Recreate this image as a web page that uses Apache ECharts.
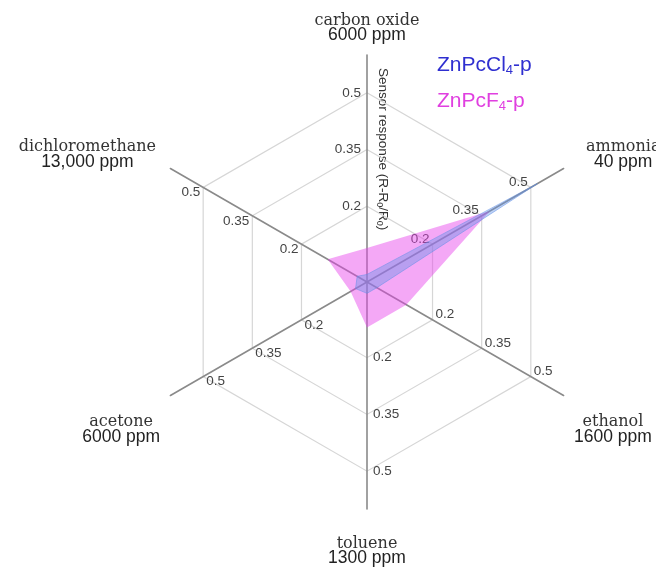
<!DOCTYPE html>
<html>
<head>
<meta charset="utf-8">
<title>Sensor response radar</title>
<script src="https://cdn.jsdelivr.net/npm/echarts@6/dist/echarts.min.js"></script>
<style>
  html, body { margin: 0; padding: 0; background: #ffffff; }
  #chart { width: 656px; height: 568px; }
</style>
</head>
<body>
<div id="chart"></div>
<script>
// Gases (counter-clockwise from the top) and their test concentrations
const gases = ['carbon oxide', 'dichloromethane', 'acetone', 'toluene', 'ethanol', 'ammonia'];
const concentrations = ['6000 ppm', '13,000 ppm', '6000 ppm', '1300 ppm', '1600 ppm', '40 ppm'];

// Sensor response (R-R0)/R0, same order as gases
const responseCl4 = [0.02, 0.03, 0.035, 0.03, 0.03, 0.52];
const responseF4  = [0.09, 0.12, 0.05, 0.12, 0.12, 0.375];

// Rings that carry a tick label
const ringValues = [0.2, 0.35, 0.5];
const axisMax = 0.6;
const axisStep = 0.05;

const seriesNames = ['ZnPcCl4-p', 'ZnPcF4-p'];

const CX = 367, CY = 282, R = 227;

const splitCount = Math.round(axisMax / axisStep);
const isRing = v => ringValues.some(r => Math.abs(r - v) < 1e-6);
const ringColors = [];
for (let i = 0; i <= splitCount; i++) {
  ringColors.push(isRing(i * axisStep) ? '#d6d6d6' : 'rgba(0,0,0,0)');
}

// Extra spacing around the gas names so they sit clear of the axis ends
const nameLayout = {
  'carbon oxide':    { pad: [0, 0, 0, 0],  above: 0,  below: 0 },
  'dichloromethane': { pad: [0, 4, 0, 0],  above: 0,  below: 16 },
  'acetone':         { pad: [0, 0, 0, 0],  above: 56, below: 0 },
  'toluene':         { pad: [0, 0, 0, 0],  above: 15, below: 0 },
  'ethanol':         { pad: [0, 0, 0, 0],  above: 56, below: 0 },
  'ammonia':         { pad: [0, 0, 0, 12], above: 0,  below: 16 }
};

const SERIF = 'DejaVu Serif, serif';
const SANS = 'Liberation Sans, Arial, sans-serif';

const nameRich = {};
gases.forEach((g, i) => {
  const L = nameLayout[g];
  nameRich['t' + i] = { fontFamily: SERIF, fontSize: 16, color: '#333333', lineHeight: 15, align: 'center', padding: L.pad };
  nameRich['c' + i] = { fontFamily: SANS, fontSize: 17.5, color: '#222222', lineHeight: 15, align: 'center', padding: L.pad };
  nameRich['a' + i] = { fontSize: 8, lineHeight: Math.max(L.above, 1) };
  nameRich['b' + i] = { fontSize: 8, lineHeight: Math.max(L.below, 1) };
});

const chart = echarts.init(document.getElementById('chart'));

chart.setOption({
  backgroundColor: '#ffffff',
  animation: false,
  legend: {
    orient: 'vertical',
    left: 427,
    top: 50,
    icon: 'none',
    itemWidth: 0,
    itemHeight: 10,
    itemGap: 14,
    data: seriesNames,
    selectedMode: false,
    formatter: function (name) {
      if (name === seriesNames[0]) return '{b|ZnPcCl}{bs|4}{b|-p}';
      return '{m|ZnPcF}{ms|4}{m|-p}';
    },
    textStyle: {
      fontFamily: SANS,
      fontSize: 21,
      rich: {
        b:  { color: '#2f2fd0', fontSize: 21, fontFamily: SANS },
        bs: { color: '#2f2fd0', fontSize: 13, verticalAlign: 'bottom', padding: [10, 0, 0, 0], fontFamily: SANS },
        m:  { color: '#e040e0', fontSize: 21, fontFamily: SANS },
        ms: { color: '#e040e0', fontSize: 13, verticalAlign: 'bottom', padding: [10, 0, 0, 0], fontFamily: SANS }
      }
    }
  },
  radar: {
    center: [CX, CY],
    radius: R,
    startAngle: 90,
    shape: 'polygon',
    splitNumber: splitCount,
    indicator: gases.map(g => ({ name: g, min: 0, max: axisMax })),
    axisName: {
      formatter: function (name) {
        const i = gases.indexOf(name);
        const L = nameLayout[name];
        let s = '{t' + i + '|' + name + '}\n{c' + i + '|' + concentrations[i] + '}';
        if (L.above) s = '{a' + i + '| }\n' + s;
        if (L.below) s = s + '\n{b' + i + '| }';
        return s;
      },
      rich: nameRich
    },
    nameGap: 12,
    axisLine: { show: true, lineStyle: { color: '#8a8a8a', width: 1.6 } },
    axisTick: { show: false },
    axisLabel: {
      show: true,
      margin: 6,
      color: '#444444',
      fontSize: 13.5,
      fontFamily: SANS,
      formatter: function (v) {
        return isRing(v) ? String(Math.round(v * 100) / 100) : '';
      }
    },
    splitLine: { show: true, lineStyle: { color: ringColors, width: 1.2 } },
    splitArea: { show: false }
  },
  graphic: [{
    type: 'text',
    x: CX + 23,
    y: CY - R + 13,
    rotation: -Math.PI / 2,
    style: {
      text: '{n|Sensor response (R-R}{s|0}{n|/R}{s|0}{n|)}',
      rich: {
        n: { fontSize: 13.5, fill: '#333333', fontFamily: SANS },
        s: { fontSize: 9, fill: '#333333', verticalAlign: 'bottom', padding: [6, 0, 0, 0], fontFamily: SANS }
      },
      align: 'left',
      verticalAlign: 'top'
    }
  }],
  series: [{
    type: 'radar',
    symbol: 'none',
    lineStyle: { width: 0 },
    data: [
      {
        name: seriesNames[1],
        value: responseF4,
        itemStyle: { color: '#e040e0' },
        lineStyle: { width: 0, color: 'rgba(0,0,0,0)' },
        areaStyle: { color: 'rgba(230,65,235,0.46)', opacity: 1 }
      },
      {
        name: seriesNames[0],
        value: responseCl4,
        itemStyle: { color: '#2f2fd0' },
        lineStyle: { width: 0.8, color: 'rgba(90,140,230,0.6)' },
        areaStyle: { color: 'rgba(100,148,232,0.42)', opacity: 1 }
      }
    ]
  }]
});
</script>
</body>
</html>
